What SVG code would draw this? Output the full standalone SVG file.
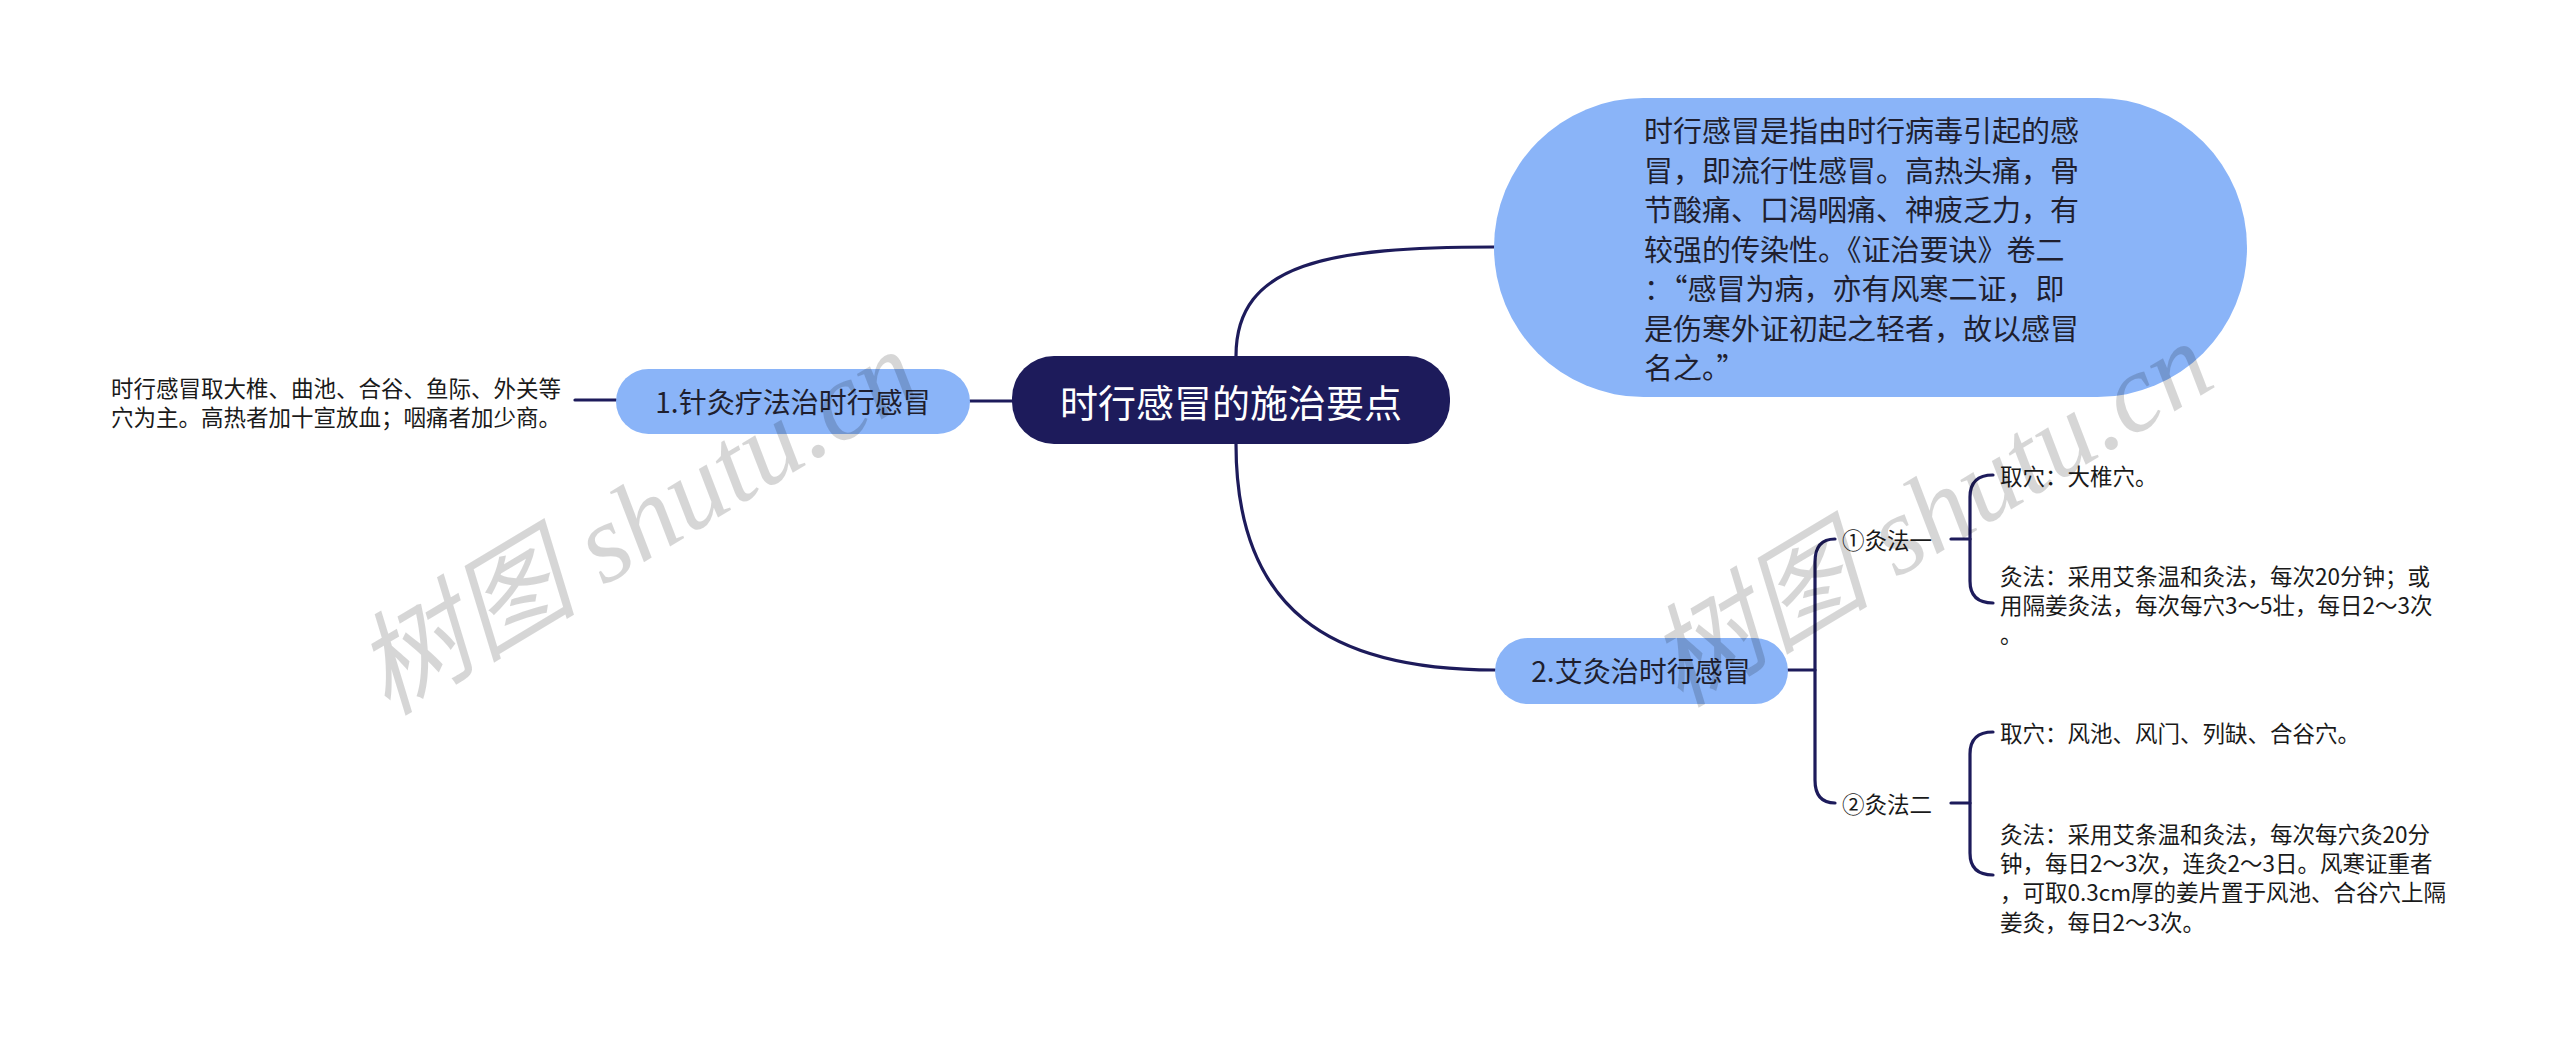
<svg xmlns="http://www.w3.org/2000/svg" width="2560" height="1042" viewBox="0 0 2560 1042">
<style>
text{font-family:"Noto Sans CJK SC","Liberation Sans",sans-serif;dominant-baseline:central}
.conn{fill:none;stroke:#1d1b5b;stroke-width:3.2;stroke-linecap:round}
.blue{fill:#8ab4f8}
.t28{font-size:28px;fill:#1f1f2f;text-anchor:middle}
.big{font-size:29px;fill:#1f1f2f;font-feature-settings:"fwid"}
.leaf{font-size:22.5px;fill:#1a1a1a}
.wm{font-family:"Liberation Serif","Noto Sans CJK SC",serif;font-style:italic;font-size:112px;fill:#000;fill-opacity:0.16}
</style>
<rect width="2560" height="1042" fill="#fff"/>
<g id="connectors">
<path class="conn" d="M1236 356 C1236 262,1330 247,1494 247"/>
<path class="conn" d="M1236 444 C1236 610,1330 670,1495 670"/>
<path class="conn" d="M970 401 L1012 401"/>
<path class="conn" d="M575 400 L616 400"/>
<path class="conn" d="M1788 670 L1815 670"/>
<path class="conn" d="M1835 539 Q1815 539 1815 562 L1815 780 Q1815 803 1835 803"/>
<path class="conn" d="M1951 539 L1970 539"/>
<path class="conn" d="M1993 475 Q1970 475 1970 497 L1970 581 Q1970 603 1993 603"/>
<path class="conn" d="M1951 803 L1970 803"/>
<path class="conn" d="M1993 732 Q1970 732 1970 754 L1970 853 Q1970 875 1993 875"/>
</g>
<g id="root">
<rect x="1012" y="356" width="438" height="88" rx="42" fill="#1d1b5b"/>
<text x="1231" y="400" font-size="38" fill="#fff" text-anchor="middle">时行感冒的施治要点</text>
</g>
<g id="desc">
<rect class="blue" x="1494" y="98" width="753" height="299" rx="149.5"/>
<text class="big" x="1644" y="129">时行感冒是指由时行病毒引起的感</text>
<text class="big" x="1644" y="168.5">冒，即流行性感冒。高热头痛，骨</text>
<text class="big" x="1644" y="208">节酸痛、口渴咽痛、神疲乏力，有</text>
<text class="big" x="1644" y="247.5">较强的传染性。《证治要诀》卷二</text>
<text class="big" x="1644" y="287">：“感冒为病，亦有风寒二证，即</text>
<text class="big" x="1644" y="326.5">是伤寒外证初起之轻者，故以感冒</text>
<text class="big" x="1644" y="366">名之。”</text>
</g>
<g id="acupuncture">
<rect class="blue" x="616" y="369" width="354" height="65" rx="32.5"/>
<text class="t28" x="793" y="401">1.针灸疗法治时行感冒</text>
</g>
<g id="acupuncture-leaf">
<text class="leaf" x="111" y="387">时行感冒取大椎、曲池、合谷、鱼际、外关等</text>
<text class="leaf" x="111" y="416">穴为主。高热者加十宣放血；咽痛者加少商。</text>
</g>
<g id="moxa">
<rect class="blue" x="1495" y="638" width="293" height="66" rx="33"/>
<text class="t28" x="1641" y="670">2.艾灸治时行感冒</text>
</g>
<g id="moxa1">
<text class="leaf" x="1842" y="539">①灸法一</text>
</g>
<g id="moxa1-a">
<text class="leaf" x="2000" y="475">取穴：大椎穴。</text>
</g>
<g id="moxa1-b">
<text class="leaf" x="2000" y="575">灸法：采用艾条温和灸法，每次20分钟；或</text>
<text class="leaf" x="2000" y="604">用隔姜灸法，每次每穴3～5壮，每日2～3次</text>
<text class="leaf" x="2000" y="633">。</text>
</g>
<g id="moxa2">
<text class="leaf" x="1842" y="803">②灸法二</text>
</g>
<g id="moxa2-a">
<text class="leaf" x="2000" y="732">取穴：风池、风门、列缺、合谷穴。</text>
</g>
<g id="moxa2-b">
<text class="leaf" x="2000" y="833">灸法：采用艾条温和灸法，每次每穴灸20分</text>
<text class="leaf" x="2000" y="862">钟，每日2～3次，连灸2～3日。风寒证重者</text>
<text class="leaf" x="2000" y="891">，可取0.3cm厚的姜片置于风池、合谷穴上隔</text>
<text class="leaf" x="2000" y="921">姜灸，每日2～3次。</text>
</g>
<g id="watermark">
<text class="wm" x="637" y="522" text-anchor="middle" transform="rotate(-31 637 522)">树图 shutu.cn</text>
<text class="wm" x="1930" y="514" text-anchor="middle" transform="rotate(-31 1930 514)">树图 shutu.cn</text>
</g>
</svg>
